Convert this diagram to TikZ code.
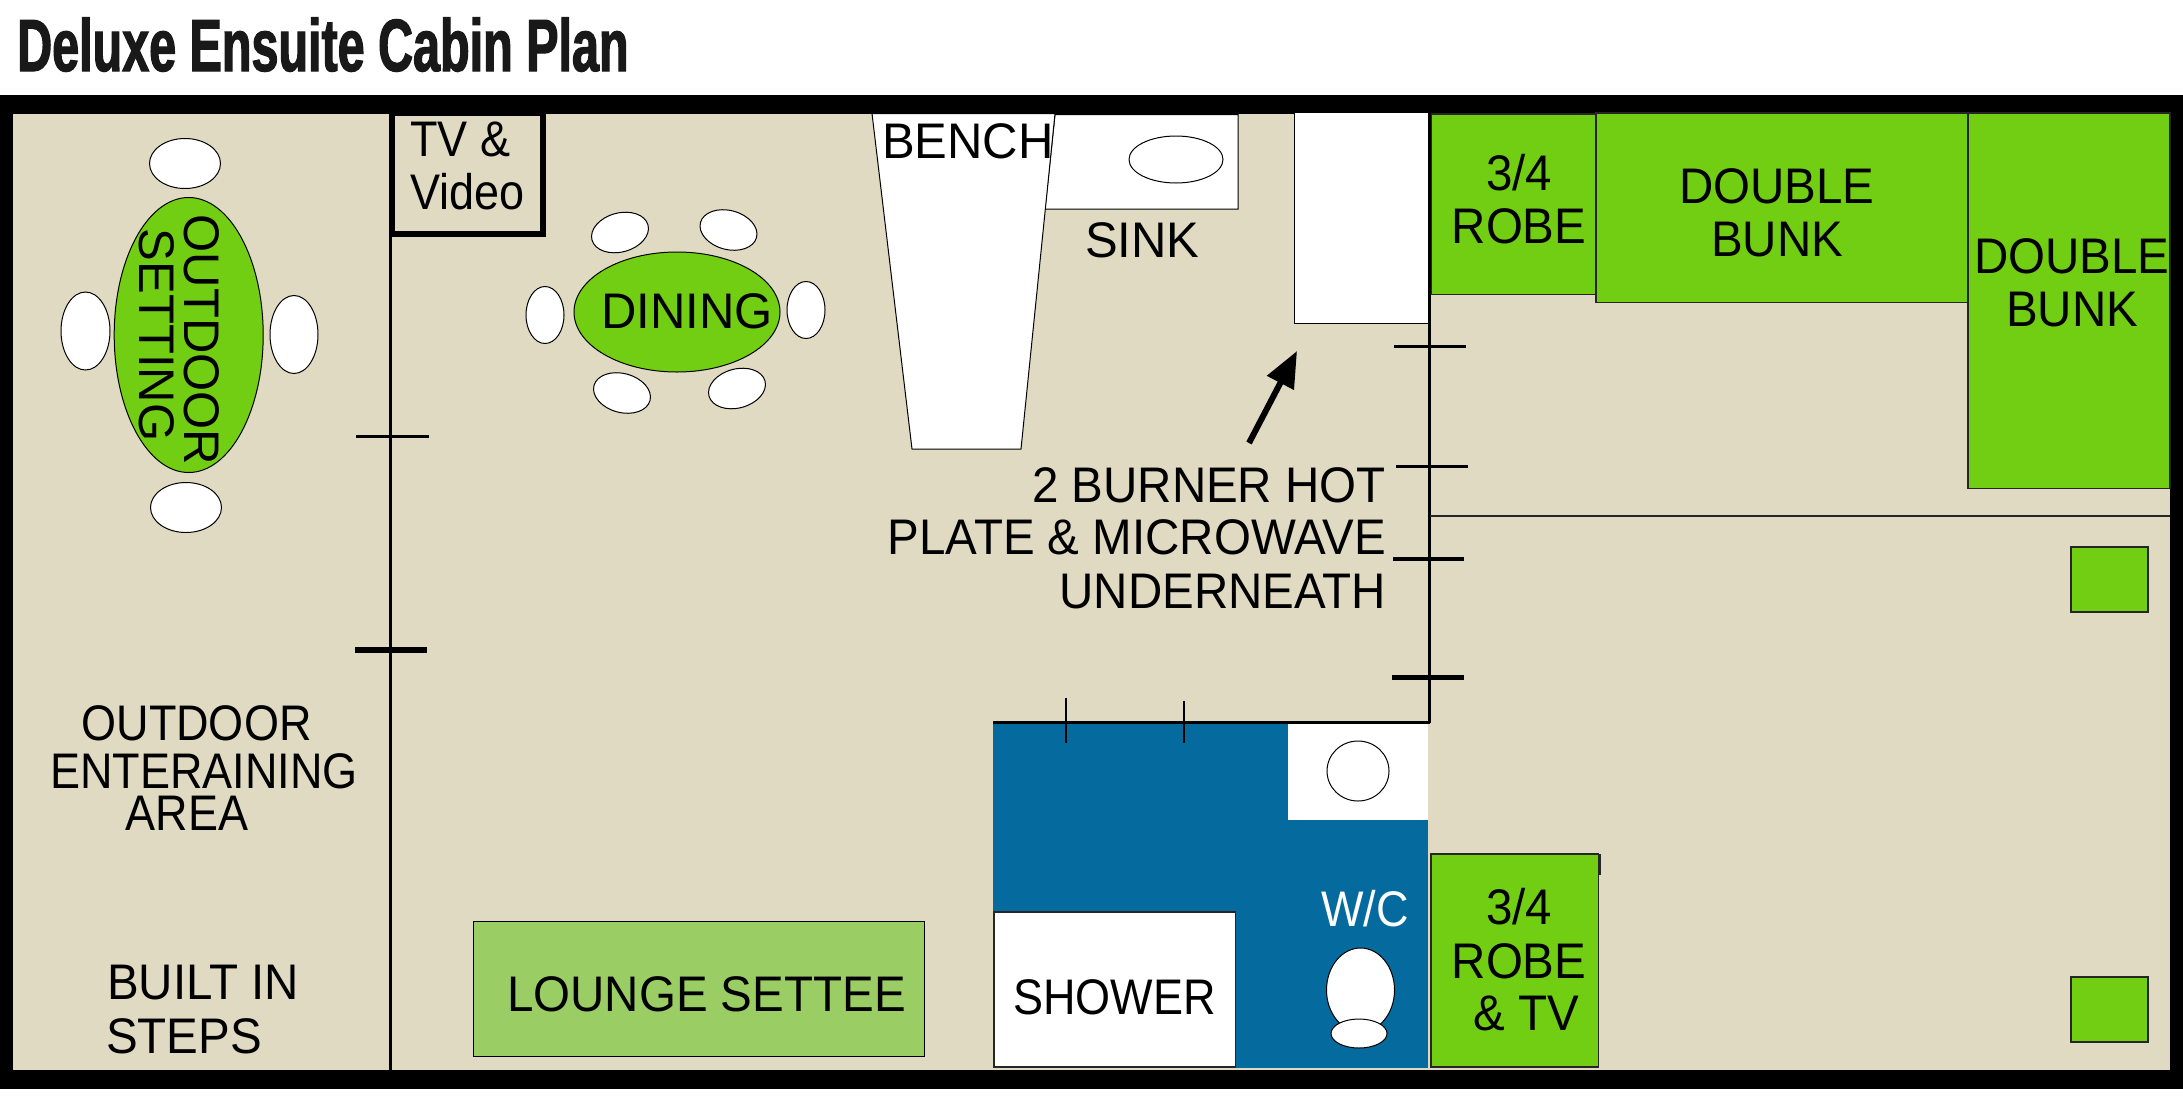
\documentclass[tikz,border=0pt]{standalone}
\usepackage{fontspec}
\setmainfont[FakeStretch=0.95]{Liberation Sans}
\newfontfamily\narrowfont[FakeStretch=0.9]{Liberation Sans}
\newfontfamily\widefont[FakeStretch=0.98]{Liberation Sans}
\newfontfamily\titlefont[FakeStretch=0.655,FakeBold=1.6]{Liberation Sans}
\usepackage{tikz}
\usetikzlibrary{arrows.meta}
\usetikzlibrary{shapes.geometric}
\definecolor{floorcol}{RGB}{224,218,195}
\definecolor{bunkcol}{RGB}{114,206,18}
\definecolor{settecol}{RGB}{154,205,100}
\definecolor{bathcol}{RGB}{5,106,158}
\tikzset{>=latex}
\tikzset{
    wall/.style = {line width=3pt},
    thin edge/.style = {draw=black,line width=1pt},
    furn/.style = {thin edge,fill=white},
    bunk/.style = {draw=black!85,line width=1.6pt,fill=bunkcol},
    chair/.style = {furn,ellipse,inner sep=0pt},
    lab/.style = {font=\fontsize{50}{53}\selectfont,inner sep=0pt,anchor=base},
    labn/.style = {lab,font=\narrowfont\fontsize{50}{53}\selectfont},
    labb/.style = {lab,font=\widefont\fontsize{50}{53}\selectfont},
}
\begin{document}
\begin{tikzpicture}[x=1pt,y=-1pt]
    \useasboundingbox (0,0) rectangle (2183,1106);
    \fill[white] (0,0) rectangle (2183,1106);
    \node[font=\titlefont\bfseries\fontsize{74}{74}\selectfont,inner sep=0pt,anchor=base west,text=black!90] (title) at (17,71) {Deluxe Ensuite Cabin Plan};
    % shell
    \fill[black] (0,95) rectangle (2183,1089);
    \fill[floorcol] (13,113.5) rectangle (2170,1070);
    \draw[wall] (390.5,113) -- (390.5,1070);
    % tv unit
    \draw[line width=5.5pt] (392,113) rectangle (543,234);
    \node[labn,anchor=base west] (tv) at (410,156) {TV \&};
    \node[labn,anchor=base west] (video) at (410,209) {Video};
    % kitchen
    \draw[furn] (1055,114.5) -- (1238,114.5) -- (1238,209) -- (1045,209) -- cycle;
    \node[furn,ellipse,minimum width=94pt,minimum height=47pt,inner sep=0pt] (basin) at (1176,159.5) {};
    \draw[furn] (872,113.5) -- (1055,113.5) -- (1021,449) -- (912,449) -- cycle;
    \fill[white] (1294,113) rectangle (1428,323);
    \draw[thin edge] (1294,113) -- (1294,323) -- (1428,323);
    \node[labb,anchor=base west] (bench) at (882,158) {BENCH};
    \node[labb,anchor=base west] (sink) at (1085,257) {SINK};
    \coordinate (arrowfoot) at (1249,443);
    \coordinate (arrowtip) at (1297,351);
    \draw[line width=6pt,-{Triangle[length=36pt,width=29pt]}] (arrowfoot) -- (arrowtip);
    \node[lab,anchor=base east] (hot) at (1386,502) {2 BURNER HOT};
    \node[lab,anchor=base east] (plate) at (1386,554) {PLATE \& MICROWAVE};
    \node[lab,anchor=base east] (under) at (1386,608) {UNDERNEATH};
    % outdoor setting
    \foreach \n/\x/\y/\w/\h in {oa/185/163.5/71/50, ob/186/507.5/71/50, oc/85.5/331/49/78, od/294/334.5/48/78}
        \node[chair,minimum width=\w pt,minimum height=\h pt] (\n) at (\x,\y) {};
    \node[ellipse,thin edge,fill=bunkcol,minimum width=149pt,minimum height=275pt,inner sep=0pt] (outdoortable) at (188.7,335) {};
    \node[labb,rotate=-90] (outdoor) at (184,340) {OUTDOOR};
    \node[labb,rotate=-90] (setting) at (139,335) {SETTING};
    % dining
    \foreach \n/\x/\y/\a in {da/620/232.5/15, db/728.5/230/-15, dc/622/393/-15, dd/737/388.5/15}
        \node[chair,minimum width=58pt,minimum height=39pt,rotate=\a] (\n) at (\x,\y) {};
    \foreach \n/\x/\y in {de/545/315, df/806/310}
        \node[chair,minimum width=38pt,minimum height=57pt] (\n) at (\x,\y) {};
    \node[ellipse,thin edge,fill=bunkcol,minimum width=206pt,minimum height=120pt,inner sep=0pt] (diningtable) at (677,312) {};
    \node[labb,anchor=base west] (dining) at (601,328) {DINING};
    % outdoor area
    \draw[line width=3pt] (356,436.5) -- (429,436.5);
    \draw[line width=6pt] (355,650) -- (427,650);
    \node[labn] (outa) at (196.5,740) {OUTDOOR};
    \node[labn] (outb) at (204,788) {ENTERAINING};
    \node[labn] (outc) at (187,830) {AREA};
    \node[lab,anchor=base west] (built) at (107,999) {BUILT IN};
    \node[lab,anchor=base west] (steps) at (106,1053) {STEPS};
    % lounge
    \draw[thin edge,fill=settecol] (473.5,921) rectangle (924.5,1056.5);
    \node[lab,anchor=base west] (lounge) at (507,1011) {LOUNGE SETTEE};
    % bathroom
    \fill[bathcol] (993,721) rectangle (1428,1068);
    \fill[white] (1288,722) rectangle (1428,820);
    \node[furn,ellipse,minimum width=62pt,minimum height=60pt,inner sep=0pt] (bowl) at (1358,771) {};
    \draw[draw=black!85,line width=1.6pt,fill=white] (994,912) rectangle (1235.5,1067);
    \node[labn,anchor=base west] (shower) at (1013,1014) {SHOWER};
    \node[labn,anchor=base west,text=white] (wc) at (1321,926) {W/C};
    \node[furn,ellipse,minimum width=68pt,minimum height=84pt,inner sep=0pt] (pan) at (1360.5,990) {};
    \node[furn,ellipse,minimum width=56pt,minimum height=29pt,inner sep=0pt] (cistern) at (1359,1033.5) {};
    \draw[wall] (993,722) -- (1430,722);
    \draw[wall] (1429,113) -- (1429,723);
    \draw[line width=2.5pt] (1066,698) -- (1066,743);
    \draw[line width=2.5pt] (1184,701) -- (1184,743);
    \foreach \y/\a/\b/\t in {346.7/1394/1466/3.5, 466.7/1396/1468/3.5, 559/1393/1464/4.5, 677/1392/1464/5}
        \draw[line width=\t pt] (\a,\y) -- (\b,\y);
    % bunks
    \draw[line width=1.2pt,black!85] (1430,516) -- (2170,516);
    \draw[bunk] (1431.5,114) rectangle (1596,294.5);
    \draw[bunk] (1596,113) rectangle (1968,302.5);
    \draw[bunk] (1968,113) rectangle (2170,488.5);
    \draw[bunk] (1431,854) rectangle (1598.5,1067);
    \draw[line width=2pt,black!85] (1600,854) -- (1600,875);
    \draw[bunk] (2071,547) rectangle (2148,612);
    \draw[bunk,line width=2.5pt] (2071,977) rectangle (2148,1042);
    \node[lab] (robea) at (1519,190) {3/4};
    \node[lab] (robeb) at (1519,243) {ROBE};
    \node[lab] (dbla) at (1777,203) {DOUBLE};
    \node[lab] (dblb) at (1777,256) {BUNK};
    \node[lab] (dblc) at (2072,273) {DOUBLE};
    \node[lab] (dbld) at (2072,326) {BUNK};
    \node[lab] (robec) at (1519,924) {3/4};
    \node[lab] (robed) at (1519,978) {ROBE};
    \node[lab] (robee) at (1526,1030) {\& TV};
\end{tikzpicture}
\end{document}
